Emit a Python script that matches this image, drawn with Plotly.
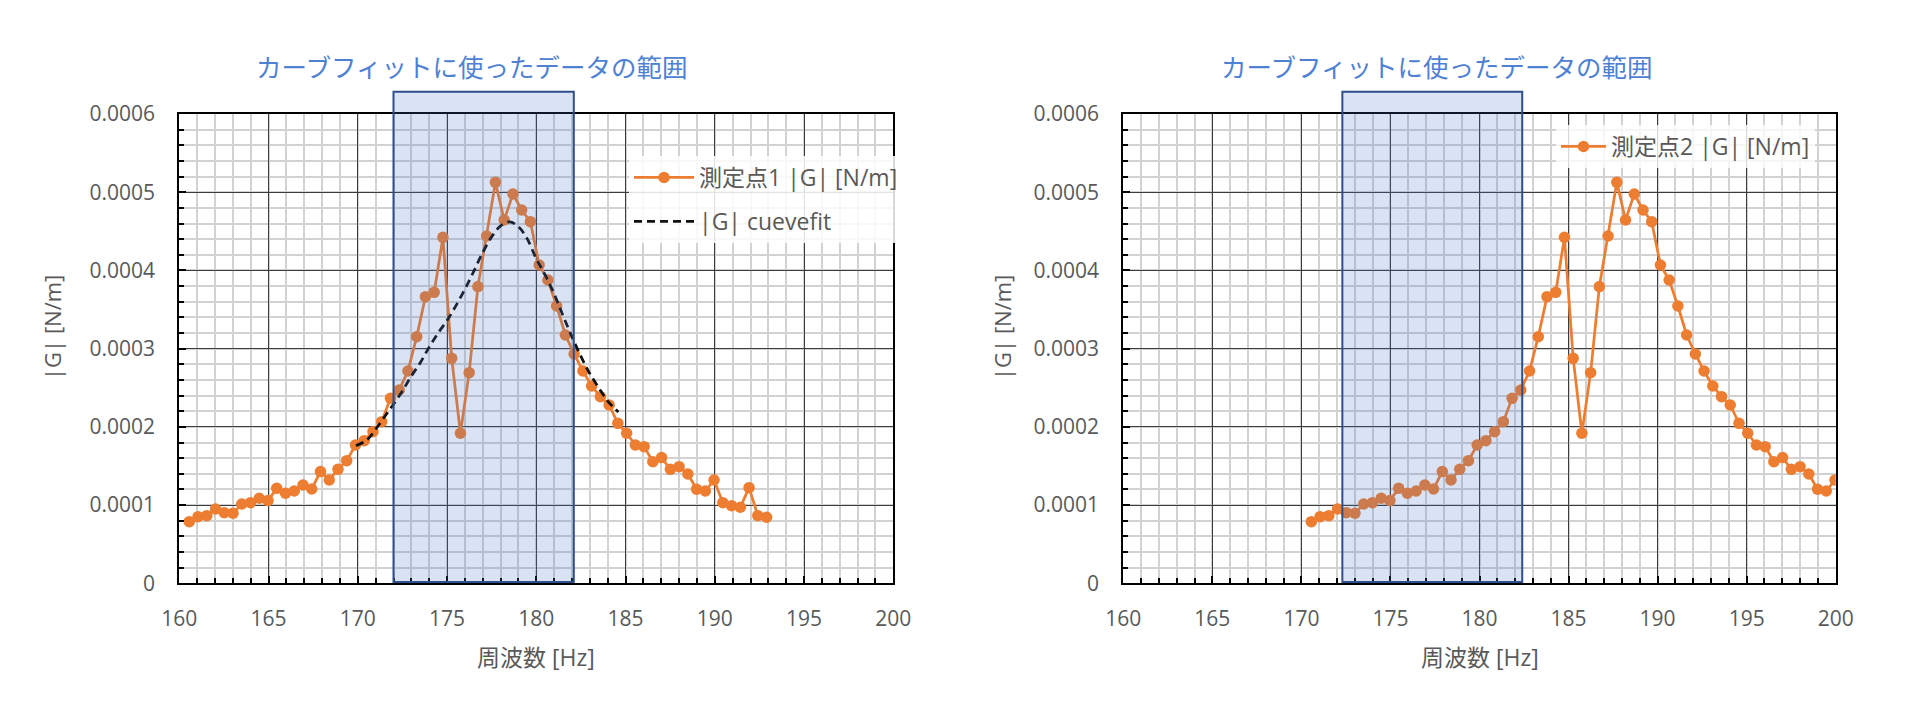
import plotly.graph_objects as go

# ---------------- data ----------------
freq1 = [160.56, 161.05, 161.54, 162.03, 162.52, 163.01, 163.50, 163.99, 164.48, 164.97,
         165.46, 165.95, 166.44, 166.93, 167.42, 167.91, 168.40, 168.89, 169.38, 169.87,
         170.36, 170.85, 171.34, 171.83, 172.32, 172.81, 173.30, 173.79, 174.28, 174.77,
         175.26, 175.75, 176.24, 176.73, 177.22, 177.71, 178.20, 178.69, 179.18, 179.67,
         180.16, 180.65, 181.14, 181.63, 182.12, 182.61, 183.10, 183.59, 184.08, 184.57,
         185.06, 185.55, 186.04, 186.53, 187.02, 187.51, 188.00, 188.49, 188.98, 189.47,
         189.96, 190.45, 190.94, 191.43, 191.92, 192.41, 192.90]

mag1 = [7.88e-5, 8.52e-5, 8.65e-5, 9.50e-5, 9.03e-5, 8.95e-5, 10.14e-5, 10.31e-5, 10.87e-5, 10.57e-5,
        12.14e-5, 11.51e-5, 11.80e-5, 12.57e-5, 12.06e-5, 14.28e-5, 13.21e-5, 14.57e-5, 15.68e-5, 17.68e-5,
        18.24e-5, 19.39e-5, 20.67e-5, 23.65e-5, 24.72e-5, 27.14e-5, 31.53e-5, 36.65e-5, 37.20e-5, 44.23e-5,
        28.76e-5, 19.18e-5, 26.93e-5, 37.93e-5, 44.40e-5, 51.26e-5, 46.45e-5, 49.77e-5, 47.73e-5, 46.24e-5,
        40.70e-5, 38.78e-5, 35.45e-5, 31.75e-5, 29.32e-5, 27.14e-5, 25.23e-5, 23.86e-5, 22.80e-5, 20.45e-5,
        19.18e-5, 17.68e-5, 17.47e-5, 15.55e-5, 16.07e-5, 14.57e-5, 14.91e-5, 13.98e-5, 12.02e-5, 11.80e-5,
        13.21e-5, 10.31e-5, 9.93e-5, 9.72e-5, 12.23e-5, 8.65e-5, 8.44e-5]

freq2 = [170.56, 171.05, 171.54, 172.03, 172.52, 173.01, 173.50, 173.99, 174.48, 174.97,
         175.46, 175.95, 176.44, 176.93, 177.42, 177.91, 178.40, 178.89, 179.38, 179.87,
         180.36, 180.85, 181.34, 181.83, 182.32, 182.81, 183.30, 183.79, 184.28, 184.77,
         185.26, 185.75, 186.24, 186.73, 187.22, 187.71, 188.20, 188.69, 189.18, 189.67,
         190.16, 190.65, 191.14, 191.63, 192.12, 192.61, 193.10, 193.59, 194.08, 194.57,
         195.06, 195.55, 196.04, 196.53, 197.02, 197.51, 198.00, 198.49, 198.98, 199.47,
         199.96]

mag2 = mag1[:61]

fit_freq = [169.9, 170.5, 171.0, 171.5, 172.0, 172.5, 173.0, 173.5, 174.0, 174.5,
            175.0, 175.5, 176.0, 176.5, 177.0, 177.5, 178.0, 178.5, 179.0, 179.5,
            180.0, 180.5, 181.0, 181.5, 182.0, 182.5, 183.0, 183.5, 184.0, 184.6]
fit_mag = [17.6e-5, 18.3e-5, 19.7e-5, 21.3e-5, 22.9e-5, 24.6e-5, 26.5e-5, 28.2e-5, 30.2e-5, 32.0e-5,
           33.6e-5, 35.5e-5, 37.6e-5, 39.9e-5, 42.3e-5, 44.3e-5, 45.7e-5, 46.2e-5, 45.6e-5, 44.0e-5,
           41.5e-5, 39.4e-5, 37.0e-5, 34.2e-5, 31.5e-5, 29.0e-5, 26.8e-5, 25.0e-5, 23.3e-5, 21.9e-5]

x_ticks = [160, 165, 170, 175, 180, 185, 190, 195, 200]
x_tick_text = ["160", "165", "170", "175", "180", "185", "190", "195", "200"]
y_ticks = [0, 0.0001, 0.0002, 0.0003, 0.0004, 0.0005, 0.0006]
y_tick_text = ["0", "0.0001", "0.0002", "0.0003", "0.0004", "0.0005", "0.0006"]

fit_range1 = [172.0, 182.1]
fit_range2 = [172.3, 182.4]

name1 = "測定点1 |G| [N/m]"
name_fit = "|G| cuevefit"
name2 = "測定点2 |G| [N/m]"
range_title = "カーブフィットに使ったデータの範囲"
x_title = "周波数 [Hz]"
y_title = "|G| [N/m]"

# ---------------- style ----------------
ORANGE = "#ED7D31"
GRAY_TXT = "#595959"
CJK = "Noto Sans CJK JP"
MIXED = "Open Sans, Noto Sans CJK JP"
TICKFONT = dict(family=MIXED, size=21, color=GRAY_TXT)

fig = go.Figure()

fig.add_trace(go.Scatter(
    x=freq1, y=mag1, name=name1, mode="lines+markers",
    line=dict(color=ORANGE, width=2.75), marker=dict(color=ORANGE, size=11.5),
    xaxis="x", yaxis="y", legend="legend", legendgroup="a"))
fig.add_trace(go.Scatter(
    x=fit_freq, y=fit_mag, name=name_fit, mode="lines",
    line=dict(color="#111111", width=2.75, dash="8px,5px", shape="spline"),
    xaxis="x", yaxis="y", legend="legend", legendgroup="b"))
fig.add_trace(go.Scatter(
    x=freq2, y=mag2, name=name2, mode="lines+markers",
    line=dict(color=ORANGE, width=2.75), marker=dict(color=ORANGE, size=11.5),
    xaxis="x2", yaxis="y2", legend="legend2"))

W, H = 1920, 719
L1, R1 = 179.3, 893.3
L2, R2 = 1123.3, 1835.7
TOP, BOT = 114.0, 583.3


def xd(a, b):
    return [a / W, b / W]


ydom = [(H - BOT) / H, (H - TOP) / H]


def xaxis_cfg(dom, anchor):
    return dict(
        domain=dom, anchor=anchor, range=[160, 200], automargin=False,
        tickmode="array", tickvals=x_ticks, ticktext=x_tick_text,
        tickfont=TICKFONT, ticks="inside", ticklen=7, tickwidth=1.5, tickcolor="black",
        ticklabelstandoff=15,
        showgrid=True, gridcolor="#3c3c3c", gridwidth=1.3,
        minor=dict(tickmode="linear", tick0=160, dtick=1, showgrid=True,
                   gridcolor="#d2d2d2", gridwidth=1.5, ticks="inside", ticklen=5,
                   tickwidth=1.5, tickcolor="black"),
        showline=True, linecolor="black", linewidth=2, mirror=True, zeroline=False,
        fixedrange=True)


def yaxis_cfg(anchor):
    return dict(
        domain=ydom, anchor=anchor, range=[0, 0.0006], automargin=False,
        tickmode="array", tickvals=y_ticks, ticktext=y_tick_text,
        tickfont=TICKFONT, ticks="inside", ticklen=7, tickwidth=1.5, tickcolor="black",
        ticklabelstandoff=18,
        showgrid=True, gridcolor="#3c3c3c", gridwidth=1.3,
        minor=dict(tickmode="linear", tick0=0, dtick=0.00002, showgrid=True,
                   gridcolor="#d2d2d2", gridwidth=1.5, ticks="inside", ticklen=5,
                   tickwidth=1.5, tickcolor="black"),
        showline=True, linecolor="black", linewidth=2, mirror=True, zeroline=False,
        fixedrange=True)


legend_font = dict(family=MIXED, size=23, color=GRAY_TXT)

fig.update_layout(
    width=W, height=H, margin=dict(l=0, r=0, t=0, b=0, autoexpand=False),
    paper_bgcolor="white", plot_bgcolor="white",
    xaxis=xaxis_cfg(xd(L1, R1), "y"),
    yaxis=yaxis_cfg("x"),
    xaxis2=xaxis_cfg(xd(L2, R2), "y2"),
    yaxis2=yaxis_cfg("x2"),
    legend=dict(x=629 / W, y=(H - 156) / H, xanchor="left", yanchor="top",
                bgcolor="rgba(255,255,255,0.85)", font=legend_font,
                itemwidth=60, tracegroupgap=11, traceorder="grouped"),
    legend2=dict(x=1556 / W, y=(H - 125) / H, xanchor="left", yanchor="top",
                 bgcolor="rgba(255,255,255,0.8)", font=legend_font, itemwidth=45),
    showlegend=True,
)

# shaded fit ranges (drawn over the data, semi-transparent)
for (x0, x1), xr, yr in [(fit_range1, "x", "y domain"), (fit_range2, "x2", "y2 domain")]:
    fig.add_shape(type="rect", xref=xr, yref=yr, x0=x0, x1=x1, y0=0.003, y1=1.0475,
                  line=dict(color="#2F4F8A", width=2),
                  fillcolor="rgba(68,114,196,0.2)", layer="above")

# range titles
for cx in [471.5, 1436]:
    fig.add_annotation(text=range_title, x=cx / W, y=(H - 66) / H, xref="paper", yref="paper",
                       showarrow=False, xanchor="center", yanchor="middle",
                       font=dict(family=CJK, size=25.5, color="#4F81D3"))

# axis titles
for cx in [(L1 + R1) / 2, (L2 + R2) / 2]:
    fig.add_annotation(text=x_title, x=cx / W, y=(H - 657) / H, xref="paper", yref="paper",
                       showarrow=False, xanchor="center", yanchor="middle",
                       font=dict(family=MIXED, size=23, color=GRAY_TXT))
for cx in [52, 1002]:
    fig.add_annotation(text=y_title, x=cx / W, y=(H - 328) / H,
                       xref="paper", yref="paper", textangle=-90,
                       showarrow=False, xanchor="center", yanchor="middle",
                       font=dict(family=MIXED, size=22, color=GRAY_TXT))

fig.write_html("out.html", config={"displayModeBar": False},
               post_script="document.body.style.margin='0';document.body.style.overflow='hidden';")
